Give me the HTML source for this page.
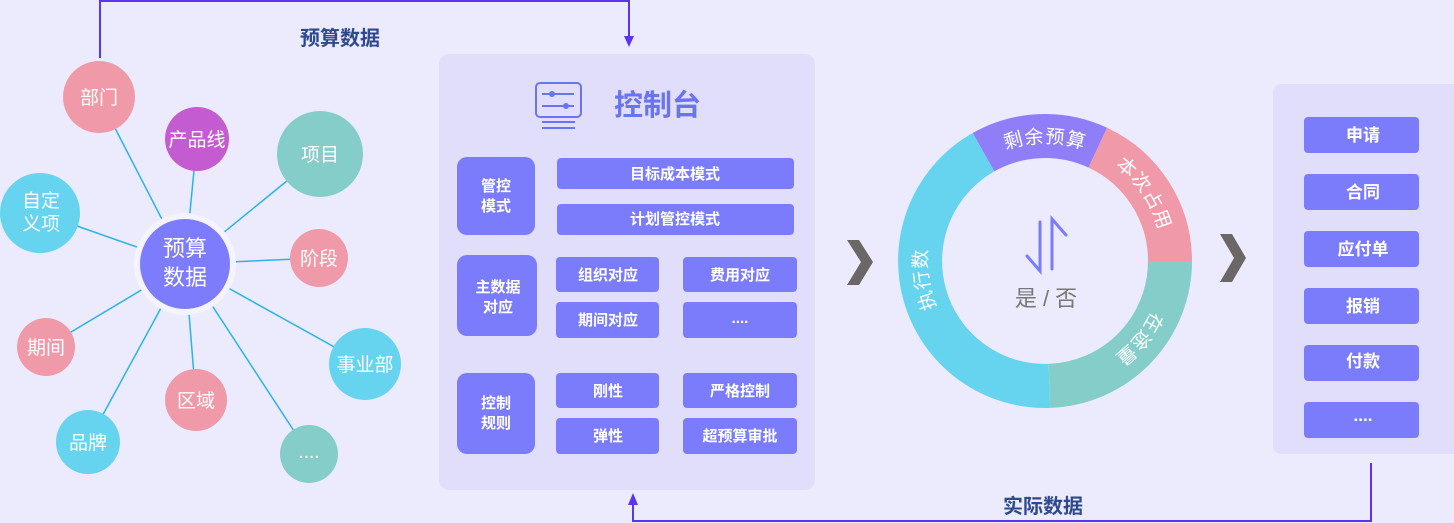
<!DOCTYPE html>
<html><head><meta charset="utf-8"><style>
html,body{margin:0;padding:0;background:#ecebfd;}
svg{display:block;}
text{font-family:"Liberation Sans","Noto Sans CJK SC",sans-serif;}
</style></head><body>
<svg width="1454" height="523" viewBox="0 0 1454 523" xmlns="http://www.w3.org/2000/svg">
<rect width="1454" height="523" fill="#ecebfd"/>
<g stroke="#5a35f0" stroke-width="2" fill="none">
<path d="M100 58 V1 H629 V40"/>
<path d="M1371 463 V521 H633 V500"/>
</g>
<polygon points="624,36 634,36 629,47" fill="#5a35f0"/>
<polygon points="628,505 638,505 633,493" fill="#5a35f0"/>
<text x="340" y="45" font-size="20" font-weight="bold" fill="#2f4a8c" text-anchor="middle">预算数据</text>
<text x="1043" y="513" font-size="20" font-weight="bold" fill="#2f4a8c" text-anchor="middle">实际数据</text>

<g stroke="#29b3e8" stroke-width="1.5">
<line x1="185" y1="264" x2="99" y2="97"/>
<line x1="185" y1="264" x2="197" y2="139"/>
<line x1="185" y1="264" x2="320" y2="154"/>
<line x1="185" y1="264" x2="40" y2="213"/>
<line x1="185" y1="264" x2="319" y2="258"/>
<line x1="185" y1="264" x2="46" y2="347"/>
<line x1="185" y1="264" x2="365" y2="364"/>
<line x1="185" y1="264" x2="196" y2="400"/>
<line x1="185" y1="264" x2="88" y2="442"/>
<line x1="185" y1="264" x2="309" y2="454"/>
</g>
<g font-size="19" fill="#fff" text-anchor="middle">
<circle cx="99" cy="97" r="36" fill="#f09aa9"/><text x="99" y="104">部门</text>
<circle cx="197" cy="139" r="32" fill="#c55bd0"/><text x="197" y="146">产品线</text>
<circle cx="320" cy="154" r="43" fill="#85cdc9"/><text x="320" y="161">项目</text>
<circle cx="40" cy="213" r="40" fill="#66d4ef"/><text x="41" y="207">自定</text><text x="41" y="230">义项</text>
<circle cx="319" cy="258" r="29" fill="#f09aa9"/><text x="319" y="265">阶段</text>
<circle cx="46" cy="347" r="29" fill="#f09aa9"/><text x="46" y="354">期间</text>
<circle cx="365" cy="364" r="36" fill="#66d4ef"/><text x="365" y="371">事业部</text>
<circle cx="196" cy="400" r="31" fill="#f09aa9"/><text x="196" y="407">区域</text>
<circle cx="88" cy="442" r="32" fill="#66d4ef"/><text x="88" y="449">品牌</text>
<circle cx="309" cy="454" r="29" fill="#85cdc9"/><text x="309" y="458">....</text>
<circle cx="185" cy="264" r="51" fill="#f4f3ff"/>
<circle cx="185" cy="264" r="45" fill="#7d7cfc"/>
<text x="185" y="256" font-size="22">预算</text><text x="185" y="285" font-size="22">数据</text>
</g>

<rect x="439" y="54" width="376" height="436" rx="10" fill="#e0defb"/>
<g stroke="#6a74f0" stroke-width="2" fill="none">
<rect x="536" y="83" width="45" height="34" rx="4"/>
<line x1="542" y1="94" x2="574" y2="94"/><line x1="542" y1="106" x2="574" y2="106"/>
<line x1="542" y1="122" x2="575" y2="122"/><line x1="542" y1="128" x2="575" y2="128"/>
</g>
<circle cx="552" cy="94" r="3" fill="#6a74f0"/><circle cx="566" cy="106" r="3" fill="#6a74f0"/>
<text x="614" y="115" font-size="29" font-weight="bold" fill="#6a74f0">控制台</text>
<g fill="#7b7cfc">
<rect x="457" y="157" width="78" height="78" rx="10"/>
<rect x="457" y="255" width="80" height="81" rx="10"/>
<rect x="457" y="373" width="78" height="81" rx="10"/>
<rect x="557" y="158" width="237" height="31" rx="4"/>
<rect x="557" y="204" width="237" height="31" rx="4"/>
<rect x="556" y="257" width="103" height="35" rx="4"/>
<rect x="556" y="302" width="103" height="36" rx="4"/>
<rect x="683" y="257" width="114" height="35" rx="4"/>
<rect x="683" y="302" width="114" height="36" rx="4"/>
<rect x="556" y="373" width="103" height="35" rx="4"/>
<rect x="556" y="418" width="103" height="36" rx="4"/>
<rect x="683" y="373" width="114" height="35" rx="4"/>
<rect x="683" y="418" width="114" height="36" rx="4"/>
</g>
<g font-size="15" fill="#fff" text-anchor="middle" font-weight="bold">
<text x="496" y="191">管控</text><text x="496" y="211">模式</text>
<text x="498" y="292">主数据</text><text x="498" y="312">对应</text>
<text x="496" y="408">控制</text><text x="496" y="428">规则</text>
<text x="675" y="179">目标成本模式</text>
<text x="675" y="224">计划管控模式</text>
<text x="608" y="280">组织对应</text>
<text x="608" y="325">期间对应</text>
<text x="740" y="280">费用对应</text>
<text x="740" y="323">....</text>
<text x="608" y="396">刚性</text>
<text x="608" y="441">弹性</text>
<text x="740" y="396">严格控制</text>
<text x="740" y="441">超预算审批</text>
</g>

<polygon points="847,240 859,240 873,262 859,285 847,285 861,262" fill="#6b6767"/>
<polygon points="1220,234 1232,234 1246,258 1232,282 1220,282 1234,258" fill="#6b6767"/>

<g fill="none" stroke-width="44">
<path d="M983.5 152.2 A125 125 0 0 1 1097.8 147.7" stroke="#907df8"/>
<path d="M1097.8 147.7 A125 125 0 0 1 1170 261" stroke="#f09aa9"/>
<path d="M1170 261 A125 125 0 0 1 1049.4 385.9" stroke="#85cdc9"/>
<path d="M1049.4 385.9 A125 125 0 0 1 983.5 152.2" stroke="#66d4ef"/>
</g>
<defs><path id="rp" d="M1045 379 A118 118 0 0 1 1045 143 A118 118 0 0 1 1045 379"/></defs>
<g font-size="19" fill="#fff" text-anchor="middle" letter-spacing="1">
<text><textPath href="#rp" startOffset="50%">剩余预算</textPath></text>
<text><textPath href="#rp" startOffset="65.5%">本次占用</textPath></text>
<text><textPath href="#rp" startOffset="86%">在途量</textPath></text>
<text><textPath href="#rp" startOffset="22.6%">执行数</textPath></text>
</g>
<g stroke="#7b7cfc" stroke-width="3" fill="none" stroke-linecap="round">
<path d="M1040 222 V271 L1027 256"/>
<path d="M1052 269 V219 L1066 235"/>
</g>
<text x="1046" y="306" font-size="22" fill="#777" text-anchor="middle">是 / 否</text>

<rect x="1273" y="84" width="190" height="370" rx="8" fill="#e0defb"/>
<g fill="#7b7cfc">
<rect x="1304" y="117" width="115" height="36" rx="4"/>
<rect x="1304" y="174" width="115" height="36" rx="4"/>
<rect x="1304" y="231" width="115" height="36" rx="4"/>
<rect x="1304" y="288" width="115" height="36" rx="4"/>
<rect x="1304" y="345" width="115" height="36" rx="4"/>
<rect x="1304" y="402" width="115" height="36" rx="4"/>
</g>
<g font-size="17" fill="#fff" text-anchor="middle" font-weight="bold">
<text x="1363" y="141">申请</text>
<text x="1363" y="198">合同</text>
<text x="1363" y="255">应付单</text>
<text x="1363" y="312">报销</text>
<text x="1363" y="367">付款</text>
<text x="1363" y="421">....</text>
</g>
</svg>
</body></html>
